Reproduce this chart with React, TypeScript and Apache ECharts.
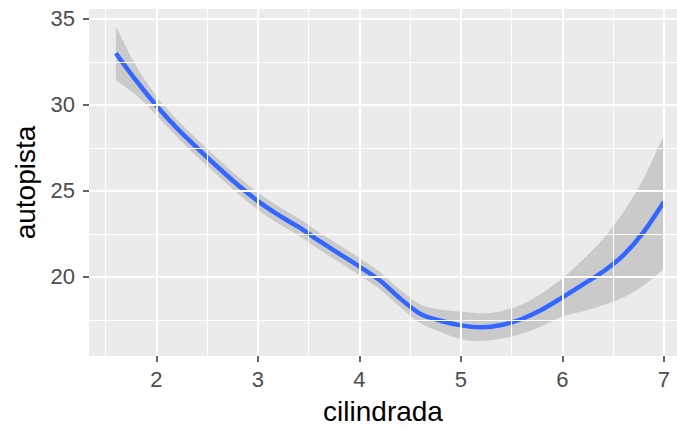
import React, { useEffect, useRef } from "react";
import * as echarts from "echarts";

// loess smooth of autopista (hwy) vs cilindrada (displ)
const displ = [1.6, 1.8, 2.0, 2.2, 2.4, 2.6, 2.8, 3.0, 3.2, 3.4, 3.6, 3.8, 4.0, 4.2, 4.4, 4.6, 4.8, 5.0, 5.2, 5.4, 5.6, 5.8, 6.0, 6.2, 6.4, 6.6, 6.8, 7.0];
const hwyFit = [33.0, 31.4, 29.95, 28.65, 27.5, 26.4, 25.35, 24.4, 23.6, 22.9, 22.1, 21.35, 20.6, 19.8, 18.75, 17.85, 17.45, 17.18, 17.07, 17.2, 17.55, 18.1, 18.8, 19.55, 20.3, 21.25, 22.6, 24.35];
const hwyUpper = [34.55, 32.25, 30.5, 29.15, 28.0, 26.9, 25.85, 24.9, 24.1, 23.4, 22.6, 21.85, 21.1, 20.3, 19.25, 18.4, 18.1, 17.98, 17.87, 18.0, 18.4, 19.05, 19.9, 21.0, 22.2, 23.75, 25.7, 28.25];
const hwyLower = [31.45, 30.55, 29.4, 28.15, 27.0, 25.9, 24.85, 23.9, 23.1, 22.4, 21.6, 20.85, 20.1, 19.3, 18.25, 17.3, 16.8, 16.38, 16.27, 16.4, 16.7, 17.15, 17.7, 18.0, 18.35, 18.8, 19.5, 20.45];

const xMajor = [2, 3, 4, 5, 6, 7];
const xMinor = [1.5, 2.5, 3.5, 4.5, 5.5, 6.5];
const yMajor = [20, 25, 30, 35];
const yMinor = [17.5, 22.5, 27.5, 32.5];

const FONT = "'Liberation Sans', Arial, sans-serif";

export default function App() {
  const ref = useRef<HTMLDivElement>(null);
  useEffect(() => {
    if (!ref.current) return;
    const chart = echarts.init(ref.current, null, { renderer: "svg" });
    const gridLines = [
      ...xMinor.map((v) => ({ xAxis: v, lineStyle: { width: 1.1 } })),
      ...yMinor.map((v) => ({ yAxis: v, lineStyle: { width: 1.1 } })),
      ...xMajor.map((v) => ({ xAxis: v, lineStyle: { width: 2 } })),
      ...yMajor.map((v) => ({ yAxis: v, lineStyle: { width: 2 } })),
    ];
    chart.setOption({
      animation: false,
      backgroundColor: "#ffffff",
      textStyle: { fontFamily: FONT },
      grid: {
        left: 89,
        right: 0,
        top: 9,
        bottom: 70,
        show: true,
        backgroundColor: "#EBEBEB",
        borderWidth: 0,
      },
      xAxis: {
        type: "value",
        min: 1.335,
        max: 7.13,
        axisLine: { show: false },
        splitLine: { show: false },
        axisTick: {
          show: true,
          customValues: xMajor,
          length: 6,
          lineStyle: { color: "#333333", width: 1.5 },
        },
        axisLabel: {
          customValues: xMajor,
          color: "#4D4D4D",
          fontSize: 22,
          fontFamily: FONT,
          margin: 12,
        },
        name: "cilindrada",
        nameLocation: "middle",
        nameGap: 41,
        nameTextStyle: { fontSize: 28, color: "#000000", fontFamily: FONT },
      },
      yAxis: {
        type: "value",
        min: 15.4,
        max: 35.57,
        axisLine: { show: false },
        splitLine: { show: false },
        axisTick: {
          show: true,
          customValues: yMajor,
          length: 6,
          lineStyle: { color: "#333333", width: 1.5 },
        },
        axisLabel: {
          customValues: yMajor,
          color: "#4D4D4D",
          fontSize: 22,
          fontFamily: FONT,
          margin: 14,
        },
        name: "autopista",
        nameLocation: "middle",
        nameGap: 45,
        nameTextStyle: { fontSize: 28, color: "#000000", fontFamily: FONT },
      },
      series: [
        {
          type: "line",
          data: [],
          z: 1,
          silent: true,
          markLine: {
            silent: true,
            symbol: ["none", "none"],
            label: { show: false },
            lineStyle: { color: "#FFFFFF", type: "solid" },
            data: gridLines,
          },
        },
        {
          type: "custom",
          z: 2,
          silent: true,
          data: [[displ[0], hwyFit[0]]],
          renderItem: (params: any, api: any) => {
            const n = displ.length;
            const pts: number[][] = [];
            pts.push(api.coord([displ[0], hwyUpper[0]]));
            for (let i = 0; i < n; i++) pts.push(api.coord([displ[i], hwyUpper[i]]));
            pts.push(api.coord([displ[n - 1], hwyUpper[n - 1]]));
            pts.push(api.coord([displ[n - 1], hwyLower[n - 1]]));
            for (let i = n - 1; i >= 0; i--) pts.push(api.coord([displ[i], hwyLower[i]]));
            pts.push(api.coord([displ[0], hwyLower[0]]));
            return {
              type: "polygon",
              shape: { points: pts, smooth: 0.3 },
              style: { fill: "rgba(153,153,153,0.4)", stroke: "none" },
            };
          },
        },
        {
          type: "line",
          z: 3,
          data: displ.map((x, i) => [x, hwyFit[i]]),
          showSymbol: false,
          smooth: 0.3,
          lineStyle: { color: "#3366FF", width: 4.5 },
        },
      ],
    });
    return () => chart.dispose();
  }, []);
  return (
    <div
      ref={ref}
      style={{ position: "fixed", left: 0, top: 0, width: 677, height: 430 }}
    />
  );
}
